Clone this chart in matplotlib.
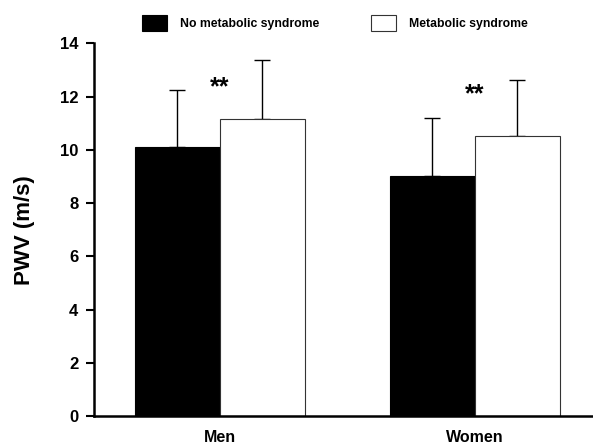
import numpy as np
import matplotlib
matplotlib.use('Agg')
import matplotlib.pyplot as plt
from matplotlib.patches import Patch

plt.rcParams['font.family'] = ['Liberation Sans', 'DejaVu Sans']
plt.rcParams['font.weight'] = 'bold'

groups = ['Men', 'Women']
series = ['No metabolic syndrome', 'Metabolic syndrome']
mean_no = [10.1, 9.0]
sd_no = [2.15, 2.2]
mean_ms = [11.15, 10.5]
sd_ms = [2.22, 2.12]
star_y = [12.42, 12.15]

fig = plt.figure(figsize=(5.93, 4.46), dpi=100)
ax = fig.add_axes([0.158, 0.067, 0.842, 0.836])

x = np.arange(len(groups))
w = 1/3.

ax.bar(x - w/2, mean_no, w, color='black', edgecolor='black', linewidth=0.8, zorder=2)
ax.bar(x + w/2, mean_ms, w, color='white', edgecolor='#333333', linewidth=0.8, zorder=2)
ax.errorbar(x - w/2, mean_no, yerr=[np.zeros(2), sd_no], fmt='none', ecolor='black',
            elinewidth=1.0, capsize=6, capthick=1.0, zorder=1)
ax.errorbar(x + w/2, mean_ms, yerr=[np.zeros(2), sd_ms], fmt='none', ecolor='black',
            elinewidth=1.0, capsize=6, capthick=1.0, zorder=1)

# asterisks: glyph sits above the middle of the text box, so shift down a bit
for i in range(len(groups)):
    ax.text(x[i], star_y[i] - 0.08, '**', ha='center', va='center', fontsize=18, fontweight='bold')

ax.set_xlim(-0.494, 1.463)
ax.set_ylim(0, 14)
ax.set_yticks(np.arange(0, 15, 2))
ax.set_xticks(x)
ax.set_xticklabels(groups, fontsize=11.5, fontweight='bold')
ax.tick_params(axis='x', length=0, pad=10)
ax.tick_params(axis='y', length=6, width=1.5, labelsize=12, pad=5)
for lbl in ax.get_yticklabels():
    lbl.set_fontweight('bold')
ax.set_ylabel('PWV (m/s)', fontsize=16, fontweight='bold', labelpad=18)

ax.spines['top'].set_visible(False)
ax.spines['right'].set_visible(False)
ax.spines['left'].set_linewidth(1.8)
ax.spines['bottom'].set_linewidth(1.8)

handles = [Patch(facecolor='black', edgecolor='black', linewidth=0.8),
           Patch(facecolor='white', edgecolor='#333333', linewidth=0.8)]
fig.legend(handles, series, loc='center left', bbox_to_anchor=(0.2395, 0.948), ncol=2,
           frameon=False, fontsize=8.8, handlelength=2.05, handleheight=1.6,
           handletextpad=1.07, columnspacing=4.2, borderpad=0, borderaxespad=0)

fig.savefig('out.png', dpi=100)
